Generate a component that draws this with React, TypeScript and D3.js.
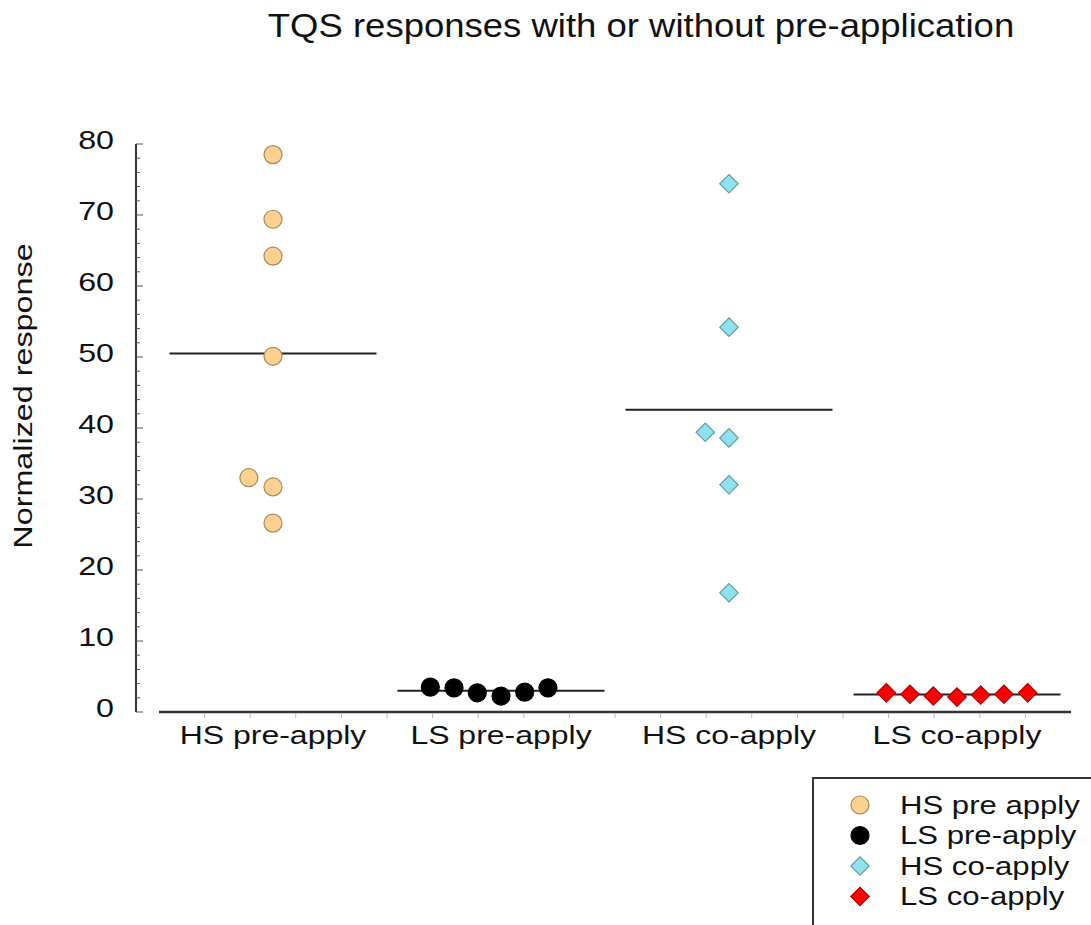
import React, { useEffect, useRef } from 'react';
import * as d3 from 'd3';

// categories and legend names
const categories = ['HS pre-apply', 'LS pre-apply', 'HS co-apply', 'LS co-apply'];
const legendLabels = ['HS pre apply', 'LS pre-apply', 'HS co-apply', 'LS co-apply'];

// values (normalized response)
const hsPre = [78.5, 69.4, 64.2, 50.1, 33.0, 31.7, 26.6];
const lsPre = [3.5, 3.4, 2.7, 2.25, 2.8, 3.4];
const hsCo = [74.4, 54.2, 39.4, 38.6, 32.0, 16.8];
const lsCo = [2.7, 2.5, 2.25, 2.1, 2.4, 2.5, 2.7];

// horizontal spread of the points inside each group (x-axis units)
const hsPreSpread = [0, 0, 0, 0, -0.53, 0, 0];
const lsPreSpread = [-1.55, -1.03, -0.52, 0, 0.52, 1.03];
const hsCoSpread = [0, 0, -0.52, 0, 0, 0];
const lsCoSpread = [-1.55, -1.03, -0.52, 0, 0.52, 1.03, 1.55];

// group centres on the numeric x axis
const groupCenters = [1.5, 6.5, 11.5, 16.5];

const yTicks = [0, 10, 20, 30, 40, 50, 60, 70, 80];

const FONT = '"Liberation Sans", Arial, Helvetica, sans-serif';

const App = () => {
    const chartRef = useRef<SVGSVGElement | null>(null);

    useEffect(() => {
        drawChart();
        // eslint-disable-next-line react-hooks/exhaustive-deps
    }, []);

    const drawChart = () => {
        const svg = d3.select(chartRef.current);
        svg.selectAll('*').remove();

        const x = d3.scaleLinear().domain([-1, 19]).range([159, 1071]);
        const y = d3.scaleLinear().domain([0, 80]).range([712, 144]);

        const groups = [
            { values: hsPre, spread: hsPreSpread, shape: 'circle', fill: '#fcd08f', stroke: '#a88a5c' },
            { values: lsPre, spread: lsPreSpread, shape: 'circle', fill: '#000000', stroke: '#000000' },
            { values: hsCo, spread: hsCoSpread, shape: 'diamond', fill: '#8ee2ee', stroke: '#5e9ea6' },
            { values: lsCo, spread: lsCoSpread, shape: 'diamond', fill: '#ff0000', stroke: '#b00000' },
        ];

        // the original type is a bit wider than Liberation Sans, so stretch it horizontally
        const addText = (parent, tx, ty, txt, size, sx, anchor = 'start', rot = 0) => {
            parent.append('text')
                .attr('transform', `translate(${tx},${ty}) rotate(${rot}) scale(${sx},1)`)
                .attr('text-anchor', anchor)
                .style('font-family', FONT)
                .style('font-size', `${size}px`)
                .attr('fill', '#111')
                .text(txt);
        };

        // title
        addText(svg, 641, 37, 'TQS responses with or without pre-application', 33.5, 1.09, 'middle');

        // y axis line
        svg.append('line')
            .attr('x1', 136).attr('x2', 136)
            .attr('y1', y(80)).attr('y2', y(0))
            .attr('stroke', '#333')
            .attr('stroke-width', 2);

        // minor + major ticks (inside)
        const minor = d3.range(0, 81, 2);
        svg.selectAll('.ytick')
            .data(minor)
            .enter()
            .append('line')
            .attr('x1', 136)
            .attr('x2', d => (d % 10 === 0 ? 143 : 140))
            .attr('y1', d => y(d))
            .attr('y2', d => y(d))
            .attr('stroke', '#555')
            .attr('stroke-width', 1);

        yTicks.forEach(d => addText(svg, 114, y(d) + 4.5, String(d), 26, 1.24, 'end'));

        addText(svg, 32, 396, 'Normalized response', 26.5, 1.22, 'middle', -90);

        // x axis line
        svg.append('line')
            .attr('x1', x(-1)).attr('x2', x(19))
            .attr('y1', 712).attr('y2', 712)
            .attr('stroke', '#333')
            .attr('stroke-width', 2.5);

        svg.selectAll('.xtick')
            .data(d3.range(0, 19))
            .enter()
            .append('line')
            .attr('x1', d => x(d)).attr('x2', d => x(d))
            .attr('y1', 713).attr('y2', 718)
            .attr('stroke', '#bbb')
            .attr('stroke-width', 1);

        categories.forEach((c, i) => addText(svg, x(groupCenters[i]), 744, c, 26, 1.23, 'middle'));

        // mean lines
        groups.forEach((g, i) => {
            const m = d3.mean(g.values) as number;
            svg.append('line')
                .attr('x1', x(groupCenters[i] - 2.27))
                .attr('x2', x(groupCenters[i] + 2.27))
                .attr('y1', y(m)).attr('y2', y(m))
                .attr('stroke', '#222')
                .attr('stroke-width', 2);
        });

        const circle = d3.symbol().type(d3.symbolCircle).size(Math.PI * 81);
        const diamond = d3.symbol().type(d3.symbolSquare).size(170);

        const drawSymbol = (sel, shape, fill, stroke, tx, ty) => {
            sel.append('path')
                .attr('d', shape === 'circle' ? circle() : diamond())
                .attr('transform', shape === 'circle'
                    ? `translate(${tx},${ty})`
                    : `translate(${tx},${ty}) rotate(45)`)
                .attr('fill', fill)
                .attr('stroke', stroke)
                .attr('stroke-width', 1.2);
        };

        // points
        groups.forEach((g, i) => {
            const layer = svg.append('g');
            g.values.forEach((v, j) => {
                drawSymbol(layer, g.shape, g.fill, g.stroke,
                    x(groupCenters[i] + g.spread[j]), y(v));
            });
        });

        // legend
        svg.append('rect')
            .attr('x', 813).attr('y', 778)
            .attr('width', 290).attr('height', 160)
            .attr('fill', 'white')
            .attr('stroke', '#333')
            .attr('stroke-width', 2);

        groups.forEach((g, i) => {
            const cy = 805 + i * 30.5;
            drawSymbol(svg, g.shape, g.fill, g.stroke, 860, cy);
            addText(svg, 900, cy + 8.5, legendLabels[i], 25.5, 1.22);
        });
    };

    return (
        <div style={{ position: 'absolute', left: 0, top: 0 }}>
            <svg ref={chartRef} width={1091} height={925} style={{ display: 'block', background: 'white' }}></svg>
        </div>
    );
};

export default App;
